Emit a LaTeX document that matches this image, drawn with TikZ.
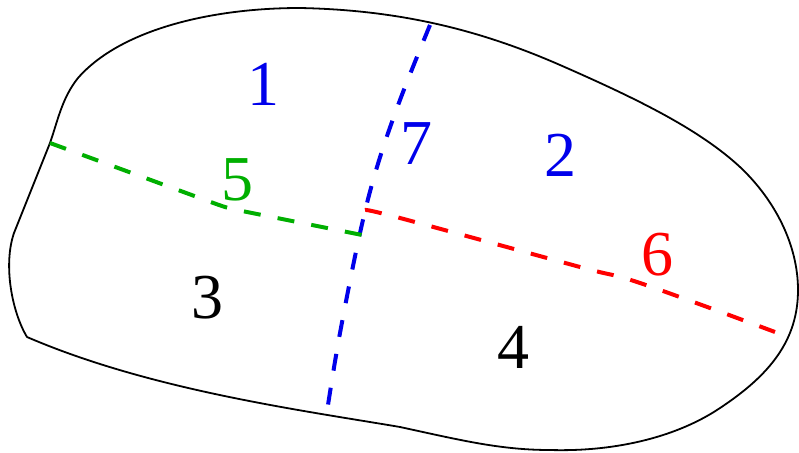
\documentclass[tikz,border=0pt]{standalone}
\usepackage{fontspec}
\setmainfont{Liberation Serif}
\newfontfamily\labfont{Liberation Serif}
\begin{document}
\begin{tikzpicture}[x=1pt,y=-1pt,
  outline/.style={draw=black,line width=1.8pt,line join=round},
  cut/.style={line width=4pt,dash pattern=on 17pt off 17.3pt},
  lab/.style={inner sep=0pt,font=\labfont\fontsize{64}{64}\selectfont}]
\definecolor{cblue}{RGB}{0,0,235}
\definecolor{cgreen}{RGB}{0,175,0}
\definecolor{cred}{RGB}{255,0,0}
\useasboundingbox (0,0) rectangle (799,452);
% outline
\draw[outline] (27,337) .. controls (12,312) and (3,265) .. (14,233)
  -- (50,143) .. controls (58,120) and (62,98) .. (78,78)
  .. controls (120,30) and (210,8) .. (300,8)
  .. controls (400,10) and (480,30) .. (560,65)
  .. controls (640,100) and (700,130) .. (740,167)
  .. controls (775,200) and (798,245) .. (798,290)
  .. controls (798,340) and (770,375) .. (720,408)
  .. controls (680,435) and (620,452) .. (550,450)
  .. controls (500,450) and (460,440) .. (400,427)
  .. controls (300,410) and (150,390) .. (27,337) -- cycle;
% cuts
\draw[cut,cblue] plot[smooth,tension=0.6] coordinates{(430,25) (400,100) (377,167) (360,233) (340,333) (328,405)};
\draw[cut,cgreen] (50,143) -- (208,201) .. controls (227,208) .. (246,211.8) -- (362,235);
\draw[cut,cred] plot[smooth,tension=0.6] coordinates{(365,210) (400,218) (580,267) (640,283) (775,332)};
% labels
\node[lab,text=cblue] (l1) at (263,84) {1};
\node[lab,text=cblue] (l2) at (560,155) {2};
\node[lab,text=black] (l3) at (207,298) {3};
\node[lab,text=black] (l4) at (513,347) {4};
\node[lab,text=cgreen] (l5) at (237,180) {5};
\node[lab,text=cred] (l6) at (657,255) {6};
\node[lab,text=cblue] (l7) at (416,144) {7};
\end{tikzpicture}
\end{document}
